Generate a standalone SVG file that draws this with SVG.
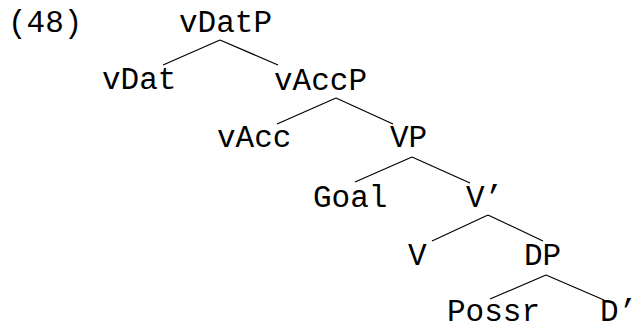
<svg xmlns="http://www.w3.org/2000/svg" width="633" height="326" viewBox="0 0 633 326">
<style>
text{font-family:"Liberation Mono","Courier New",monospace;font-size:31px;fill:#000}
.e{stroke:#000;stroke-width:1.2;fill:none}
</style>
<rect width="633" height="326" fill="#fff"/>
<text id="label" x="8" y="32">(48)</text>
<g id="connectors">
<line class="e" x1="220" y1="40" x2="163" y2="65"/>
<line class="e" x1="220" y1="40" x2="278" y2="65"/>
<line class="e" x1="336" y1="98" x2="277" y2="124"/>
<line class="e" x1="336" y1="98" x2="393" y2="124"/>
<line class="e" x1="412" y1="157" x2="355" y2="182"/>
<line class="e" x1="412" y1="157" x2="470" y2="183"/>
<line class="e" x1="488" y1="215" x2="432" y2="241"/>
<line class="e" x1="488" y1="215" x2="543" y2="241"/>
<line class="e" x1="546" y1="275" x2="490" y2="299"/>
<line class="e" x1="546" y1="275" x2="604" y2="300"/>
</g>
<g id="vDatP"><text x="179" y="32">vDatP</text></g>
<g id="vDat"><text x="102" y="89">vDat</text></g>
<g id="vAccP"><text x="274" y="90">vAccP</text></g>
<g id="vAcc"><text x="217" y="147">vAcc</text></g>
<g id="VP"><text x="390" y="147">VP</text></g>
<g id="Goal"><text x="313" y="207">Goal</text></g>
<g id="Vbar"><text x="466" y="207">V’</text></g>
<g id="V"><text x="408" y="265">V</text></g>
<g id="DP"><text x="524" y="265">DP</text></g>
<g id="Possr"><text x="447" y="321">Possr</text></g>
<g id="Dbar"><text x="600" y="321">D’</text></g>
</svg>
